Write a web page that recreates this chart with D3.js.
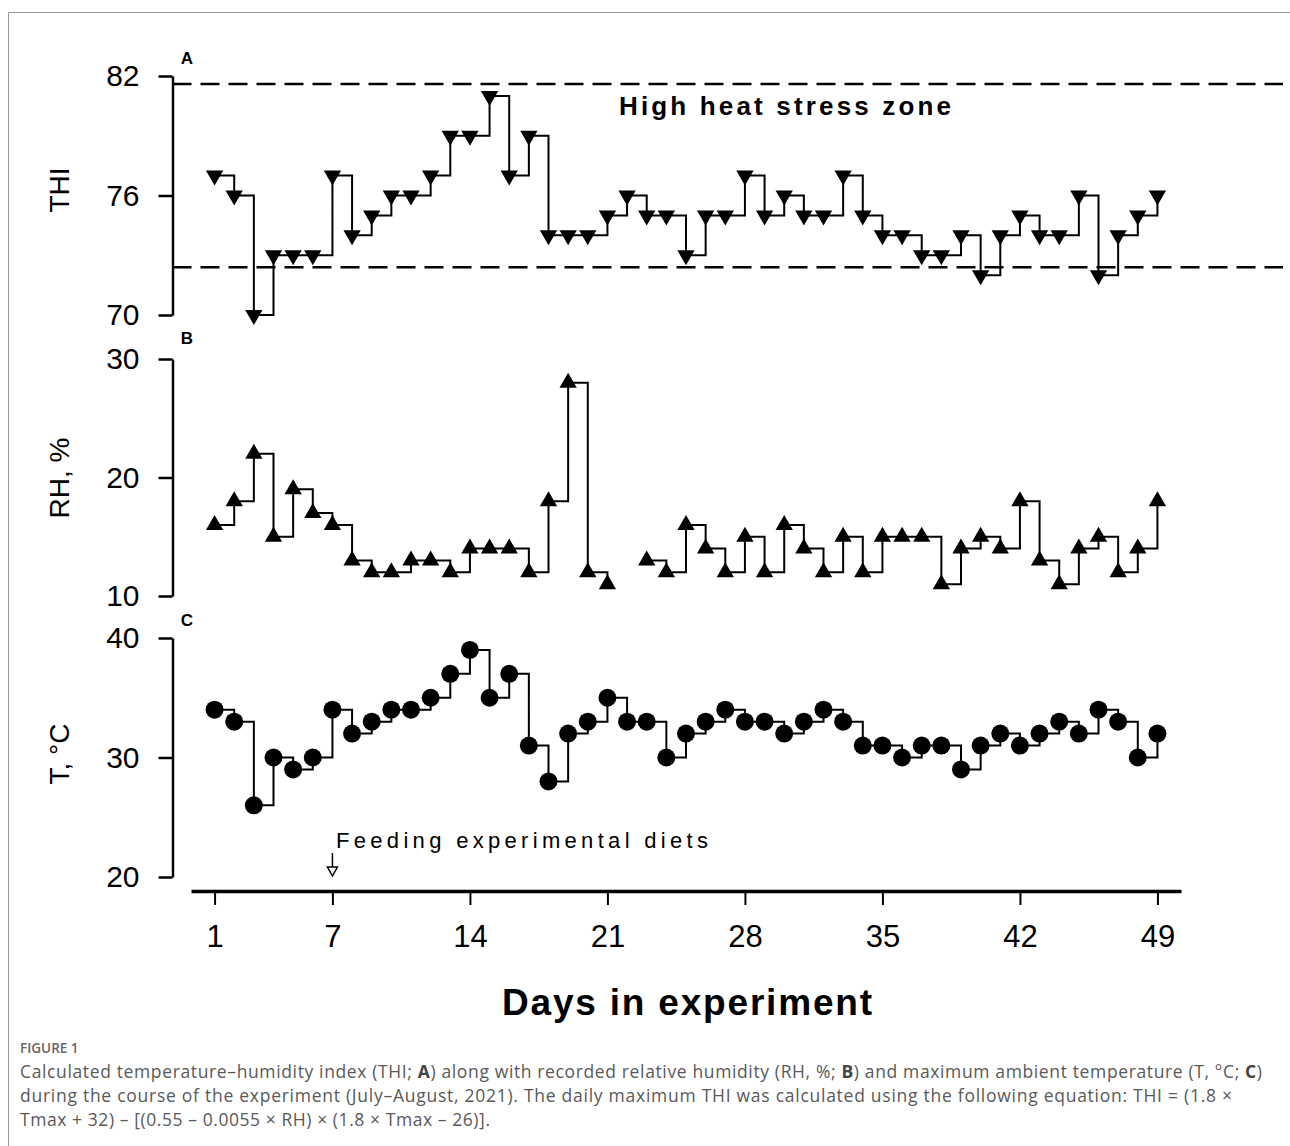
<!DOCTYPE html>
<html>
<head>
<meta charset="utf-8">
<script src="https://cdn.jsdelivr.net/npm/d3@7"></script>
<style>
  body { margin: 0; background: #fff; }
  svg { display: block; }
  .chart text { font-family: "Liberation Sans", Arial, sans-serif; fill: #000; }
  .chart text.caption { font-family: "Open Sans", "Noto Sans", sans-serif; fill: #595959; }
</style>
</head>
<body>
<div id="chart"></div>
<script>
// days in experiment
var days = d3.range(1, 50);
var dayTicks = [1, 7, 14, 21, 28, 35, 42, 49];

// A: temperature-humidity index
var thi = [77, 76, 70, 73, 73, 73, 77, 74, 75, 76,
           76, 77, 79, 79, 81, 77, 79, 74, 74, 74,
           75, 76, 75, 75, 73, 75, 75, 77, 75, 76,
           75, 75, 77, 75, 74, 74, 73, 73, 74, 72,
           74, 75, 74, 74, 76, 72, 74, 75, 76];
var thiTicks = [70, 76, 82];
var stressLimits = [72.4, 81.6];

// B: relative humidity, % (day 22 missing)
var rh = [16, 18, 22, 15, 19, 17, 16, 13, 12, 12,
          13, 13, 12, 14, 14, 14, 12, 18, 28, 12,
          11, null, 13, 12, 16, 14, 12, 15, 12, 16,
          14, 12, 15, 12, 15, 15, 15, 11, 14, 15,
          14, 18, 13, 11, 14, 15, 12, 14, 18];
var rhTicks = [10, 20, 30];

// C: max ambient temperature, C
var temp = [34, 33, 26, 30, 29, 30, 34, 32, 33, 34,
            34, 35, 37, 39, 35, 37, 31, 28, 32, 33,
            35, 33, 33, 30, 32, 33, 34, 33, 33, 32,
            33, 34, 33, 31, 31, 30, 31, 31, 29, 31,
            32, 31, 32, 33, 32, 34, 33, 30, 32];
var tempTicks = [20, 30, 40];

function init() {
    var w = 1290;
    var h = 1146;
    var axisX = 172.5;

    var svg = d3.select("#chart")
        .append("svg")
        .attr("class", "chart")
        .attr("width", w)
        .attr("height", h);

    // frame of the figure box
    svg.append("path")
        .attr("d", "M8.5," + h + " V12.5 H" + w)
        .attr("fill", "none")
        .attr("stroke", "#999")
        .attr("stroke-width", 1);

    var xScale = d3.scaleLinear()
        .domain([-0.2, 50.2])
        .range([191, 1181]);

    var panels = [
        { letter: "A", title: "THI", values: thi, ticks: thiTicks, range: [315, 76], marker: "down", letterY: 64, titleY: 190 },
        { letter: "B", title: "RH, %", values: rh, ticks: rhTicks, range: [596, 359], marker: "up", letterY: 344, titleY: 478 },
        { letter: "C", title: "T, \u00B0C", values: temp, ticks: tempTicks, range: [877, 638], marker: "circle", letterY: 626, titleY: 754 }
    ];

    var tri = d3.symbol().type(d3.symbolTriangle).size(130);

    panels.forEach(function(p) {
        var yScale = d3.scaleLinear()
            .domain([p.ticks[0], p.ticks[p.ticks.length - 1]])
            .range(p.range);

        var data = days.map(function(d, i) { return { day: d, v: p.values[i] }; });

        // y axis
        var yAxis = d3.axisLeft(yScale)
            .tickValues(p.ticks)
            .tickSize(14)
            .tickSizeOuter(0)
            .tickPadding(19);
        var gy = svg.append("g")
            .attr("transform", "translate(" + axisX + ",0)")
            .call(yAxis);
        gy.select(".domain").attr("stroke-width", 2.5);
        gy.selectAll(".tick line").attr("stroke-width", 2.5);
        gy.selectAll(".tick text")
            .style("font-family", "'Liberation Sans', Arial, sans-serif")
            .style("font-size", "30px");

        // threshold lines (panel A only)
        if (p.letter === "A") {
            svg.selectAll(".limit")
                .data(stressLimits)
                .enter()
                .append("line")
                .attr("x1", axisX)
                .attr("x2", w - 7)
                .attr("y1", function(d) { return yScale(d); })
                .attr("y2", function(d) { return yScale(d); })
                .attr("stroke", "#000")
                .attr("stroke-width", 2.5)
                .attr("stroke-dasharray", "19,9");

            svg.append("text")
                .attr("x", 619)
                .attr("y", 115)
                .attr("textLength", 332)
                .attr("lengthAdjust", "spacing")
                .style("font-size", "26px")
                .style("font-weight", "bold")
                .text("High heat stress zone");
        }

        // step line
        var line = d3.line()
            .defined(function(d) { return d.v != null; })
            .x(function(d) { return xScale(d.day); })
            .y(function(d) { return yScale(d.v); })
            .curve(d3.curveStepAfter);

        svg.append("path")
            .datum(data)
            .attr("d", line)
            .attr("fill", "none")
            .attr("stroke", "#000")
            .attr("stroke-width", 2);

        // markers
        var pts = data.filter(function(d) { return d.v != null; });
        if (p.marker === "circle") {
            svg.selectAll(".pt" + p.letter)
                .data(pts)
                .enter()
                .append("circle")
                .attr("cx", function(d) { return xScale(d.day); })
                .attr("cy", function(d) { return yScale(d.v); })
                .attr("r", 9)
                .attr("fill", "#000");
        } else {
            svg.selectAll(".pt" + p.letter)
                .data(pts)
                .enter()
                .append("path")
                .attr("d", tri)
                .attr("transform", function(d) {
                    return "translate(" + xScale(d.day) + "," + yScale(d.v) + ")" +
                        (p.marker === "down" ? " rotate(180)" : "");
                })
                .attr("fill", "#000");
        }

        // panel letter
        svg.append("text")
            .attr("x", 187)
            .attr("y", p.letterY)
            .attr("text-anchor", "middle")
            .style("font-size", "17px")
            .style("font-weight", "bold")
            .text(p.letter);

        // y title
        svg.append("text")
            .attr("transform", "translate(69," + p.titleY + ") rotate(-90)")
            .attr("text-anchor", "middle")
            .style("font-size", "28px")
            .text(p.title);
    });

    // x axis
    var xAxis = d3.axisBottom(xScale)
        .tickValues(dayTicks)
        .tickSize(14)
        .tickSizeOuter(0)
        .tickPadding(20);
    var gx = svg.append("g")
        .attr("transform", "translate(0,891)")
        .call(xAxis);
    gx.select(".domain").attr("stroke-width", 3.5);
    gx.selectAll(".tick line").attr("stroke-width", 2);
    gx.selectAll(".tick text")
        .style("font-family", "'Liberation Sans', Arial, sans-serif")
        .style("font-size", "31px");

    // feeding annotation
    var ax = xScale(7);
    svg.append("line")
        .attr("x1", ax).attr("x2", ax)
        .attr("y1", 853).attr("y2", 867)
        .attr("stroke", "#000")
        .attr("stroke-width", 1.5);
    svg.append("path")
        .attr("d", "M" + (ax - 5) + ",867 L" + (ax + 5) + ",867 L" + ax + ",876 Z")
        .attr("fill", "#fff")
        .attr("stroke", "#000")
        .attr("stroke-width", 1.5);
    svg.append("text")
        .attr("x", 336)
        .attr("y", 848)
        .attr("textLength", 372)
        .attr("lengthAdjust", "spacing")
        .style("font-size", "22px")
        .text("Feeding experimental diets");

    // x title
    svg.append("text")
        .attr("x", 502)
        .attr("y", 1015)
        .attr("textLength", 370)
        .attr("lengthAdjust", "spacing")
        .style("font-size", "37px")
        .style("font-weight", "bold")
        .text("Days in experiment");

    // caption
    svg.append("text")
        .attr("class", "caption")
        .attr("x", 20)
        .attr("y", 1053)
        .style("font-size", "13.5px")
        .style("font-weight", "600")
        .style("fill", "#666")
        .text("FIGURE 1");

    var cap1 = svg.append("text").attr("class", "caption")
        .attr("x", 20).attr("y", 1078)
        .attr("textLength", 1242).attr("lengthAdjust", "spacing")
        .style("font-size", "17.5px");
    cap1.append("tspan").text("Calculated temperature\u2013humidity index (THI; ");
    cap1.append("tspan").style("font-weight", "bold").style("fill", "#444").text("A");
    cap1.append("tspan").text(") along with recorded relative humidity (RH, %; ");
    cap1.append("tspan").style("font-weight", "bold").style("fill", "#444").text("B");
    cap1.append("tspan").text(") and maximum ambient temperature (T, \u00B0C; ");
    cap1.append("tspan").style("font-weight", "bold").style("fill", "#444").text("C");
    cap1.append("tspan").text(")");

    svg.append("text").attr("class", "caption")
        .attr("x", 20).attr("y", 1102)
        .attr("textLength", 1212).attr("lengthAdjust", "spacing")
        .style("font-size", "17.5px")
        .text("during the course of the experiment (July\u2013August, 2021). The daily maximum THI was calculated using the following equation: THI = (1.8 \u00D7");
    svg.append("text").attr("class", "caption")
        .attr("x", 20).attr("y", 1126)
        .attr("textLength", 470).attr("lengthAdjust", "spacing")
        .style("font-size", "17.5px")
        .text("Tmax + 32) \u2013 [(0.55 \u2013 0.0055 \u00D7 RH) \u00D7 (1.8 \u00D7 Tmax \u2013 26)].");
}

window.onload = init;
</script>
</body>
</html>
